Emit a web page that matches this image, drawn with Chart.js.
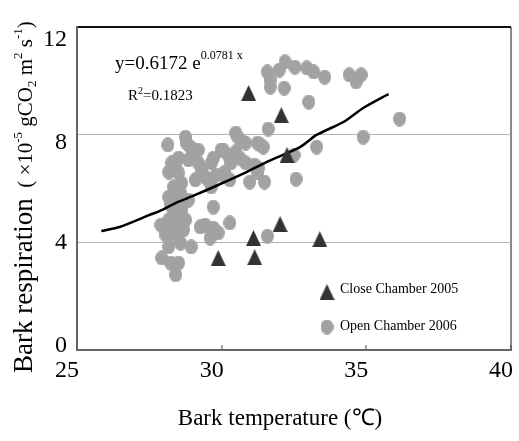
<!DOCTYPE html>
<html>
<head>
<meta charset="utf-8">
<script src="https://cdn.jsdelivr.net/npm/chart.js@4.4.0/dist/chart.umd.min.js"></script>
<style>
body { margin: 0; background: #fff; }
#wrap { width: 519px; height: 441px; }
</style>
</head>
<body>
<div id="wrap"><canvas id="myChart" width="519" height="441"></canvas></div>
<script>
// Close chamber 2005 (triangles)
const closeTemp = [30.93, 32.06, 32.26, 32.02, 31.10, 31.14, 29.88, 33.39];
const closeResp = [9.55, 8.73, 7.24, 4.68, 4.16, 3.45, 3.42, 4.12];

// Open chamber 2006 (grey dots)
const openTemp = [31.58, 31.68, 31.68, 31.99, 32.19, 32.53, 32.94, 33.18, 33.56, 34.41,
    34.65, 34.82, 32.16, 33.01, 36.15, 34.89, 33.28, 31.61, 31.44, 31.24,
    32.50, 31.27, 31.48, 32.57, 31.58, 30.28, 30.56, 30.73, 30.49, 31.34,
    30.05, 30.22, 30.49, 30.63, 30.83, 31.14, 31.24, 30.05, 30.28, 30.97,
    28.14, 28.75, 28.78, 29.02, 28.51, 28.41, 28.17, 29.19, 29.30, 29.43,
    29.71, 29.98, 30.32, 30.11, 29.81, 29.53, 28.61, 28.34, 28.17, 28.85,
    28.61, 28.34, 27.90, 28.27, 28.61, 28.41, 28.58, 28.17, 28.95, 29.26,
    29.43, 29.71, 29.88, 29.60, 29.71, 27.93, 28.24, 28.51, 28.41, 28.17,
    28.41, 28.61, 28.75, 28.27, 28.92, 28.27, 28.51, 29.64, 29.09, 29.64,
    28.58, 30.83, 28.44, 28.85, 29.19, 28.68, 28.24, 28.07];
const openResp = [10.33, 10.03, 9.77, 10.40, 10.70, 10.51, 10.48, 10.33, 10.14, 10.22,
    9.96, 10.22, 9.73, 9.21, 8.58, 7.91, 7.54, 8.21, 7.54, 7.69,
    7.24, 6.76, 6.24, 6.35, 4.23, 4.72, 7.91, 7.73, 8.06, 7.62,
    7.43, 7.24, 7.36, 7.13, 6.95, 6.87, 6.58, 6.50, 6.32, 6.24,
    7.62, 7.91, 7.69, 7.43, 7.13, 6.80, 6.61, 6.95, 6.69, 6.43,
    7.13, 7.43, 6.95, 6.61, 6.50, 6.32, 6.20, 6.06, 5.68, 5.57,
    5.20, 5.20, 4.64, 4.57, 4.83, 4.27, 3.97, 3.83, 3.83, 4.57,
    4.64, 4.53, 4.35, 4.16, 5.31, 3.42, 3.23, 3.23, 2.79, 4.83,
    5.09, 5.31, 4.83, 4.35, 7.54, 6.95, 6.58, 6.95, 6.32, 6.06,
    5.83, 7.69, 5.57, 7.06, 7.43, 4.46, 5.39, 4.27];

// fitted curve
const fitTemp = [25.84, 26.47, 27.49, 27.93, 28.41, 29.09, 29.88, 30.80, 31.58, 32.71, 33.28, 34.21, 34.89, 35.77];
const fitResp = [4.42, 4.57, 5.01, 5.20, 5.46, 5.76, 6.13, 6.58, 7.00, 7.54, 7.99, 8.47, 8.99, 9.51];

const xTicks = [25, 30, 35, 40];
const yTickStep = 2;
const yLabelEvery = 4;
const legendLabels = ['Close Chamber 2005', 'Open Chamber 2006'];

const SERIF = "'Liberation Serif', 'Times New Roman', serif";

// the y labels in the original sit a bit off their gridlines (px, + is down)
const yLabelShift = { 12: 13, 8: 8, 4: 0, 0: -4 };

function toPoints(xs, ys) {
    return xs.map((x, i) => ({ x: x, y: ys[i] }));
}

function makeDot(w, h, color) {
    const c = document.createElement('canvas');
    c.width = w; c.height = h;
    const g = c.getContext('2d');
    g.fillStyle = color;
    g.beginPath();
    g.ellipse(w / 2, h / 2, w / 2, h / 2, 0, 0, Math.PI * 2);
    g.fill();
    return c;
}

function makeTriangle(w, h, color) {
    const c = document.createElement('canvas');
    c.width = w; c.height = h;
    const g = c.getContext('2d');
    g.fillStyle = color;
    g.beginPath();
    g.moveTo(w / 2, 0);
    g.lineTo(w, h);
    g.lineTo(0, h);
    g.closePath();
    g.fill();
    return c;
}

const dotImg = makeDot(13, 15, '#a2a2a2');
const triImg = makeTriangle(15, 16, '#333333');

// draws text runs left to right, with sizes and vertical shifts (super/subscripts)
function drawRuns(ctx, x, y, runs) {
    let cx = x;
    runs.forEach(r => {
        ctx.font = r.s + 'px ' + SERIF;
        ctx.fillText(r.t, cx, y + (r.dy || 0));
        cx += ctx.measureText(r.t).width;
    });
}

const textPlugin = {
    id: 'textPlugin',
    beforeDatasetsDraw(chart) {
        const ctx = chart.ctx;
        ctx.save();
        ctx.fillStyle = '#fff';
        ctx.fillRect(335, 276, 172, 64);
        ctx.restore();
    },
    afterDatasetsDraw(chart) {
        const ctx = chart.ctx;
        ctx.save();
        ctx.fillStyle = '#000';
        ctx.textBaseline = 'alphabetic';
        ctx.textAlign = 'left';

        // equation
        drawRuns(ctx, 115, 69, [
            { t: 'y=0.6172 e', s: 19 },
            { t: '0.0781 x', s: 12, dy: -10 }
        ]);
        drawRuns(ctx, 128, 100, [
            { t: 'R', s: 15 },
            { t: '2', s: 10, dy: -6 },
            { t: '=0.1823', s: 15 }
        ]);

        // legend
        ctx.drawImage(triImg, 327 - 7.5, 292 - 8);
        ctx.drawImage(dotImg, 327 - 6.5, 327 - 7.5);
        ctx.font = '14px ' + SERIF;
        ctx.fillText(legendLabels[0], 340, 293);
        ctx.fillText(legendLabels[1], 340, 330);

        // x title
        ctx.font = '23px ' + SERIF;
        ctx.textAlign = 'center';
        ctx.fillText('Bark temperature (\u2103)', 280, 425);

        // y title (rotated)
        ctx.textAlign = 'left';
        ctx.translate(32, 373);
        ctx.rotate(-Math.PI / 2);
        drawRuns(ctx, 0, 0, [
            { t: 'Bark respiration', s: 27 },
            { t: '  ( ', s: 21 },
            { t: '\u00d710', s: 21 },
            { t: '-5', s: 13, dy: -10 },
            { t: ' gCO', s: 21 },
            { t: '2', s: 13, dy: 4 },
            { t: ' m', s: 21 },
            { t: '2', s: 13, dy: -10 },
            { t: ' s', s: 21 },
            { t: '-1', s: 13, dy: -10 },
            { t: ')', s: 21 }
        ]);
        ctx.restore();
    }
};

const config = {
    type: 'scatter',
    data: {
        datasets: [{
            label: legendLabels[0],
            data: toPoints(closeTemp, closeResp),
            pointStyle: triImg,
            pointRadius: 7,
            order: 1
        }, {
            type: 'line',
            label: 'fit',
            data: toPoints(fitTemp, fitResp),
            borderColor: '#000',
            borderWidth: 2.5,
            pointRadius: 0,
            tension: 0.25,
            fill: false,
            order: 2
        }, {
            label: legendLabels[1],
            data: toPoints(openTemp, openResp),
            pointStyle: dotImg,
            pointRadius: 6,
            order: 3
        }]
    },
    options: {
        responsive: false,
        animation: false,
        events: [],
        layout: { padding: { top: 27, right: 2, left: 0, bottom: 0 } },
        plugins: {
            legend: { display: false },
            tooltip: { enabled: false }
        },
        scales: {
            x: {
                type: 'linear',
                min: xTicks[0],
                max: xTicks[xTicks.length - 1],
                afterBuildTicks(scale) {
                    scale.ticks = xTicks.map(v => ({ value: v }));
                },
                afterFit(scale) {
                    scale.height = 91;
                    scale.paddingLeft = 0;
                    scale.paddingRight = 0;
                },
                border: { color: '#666', width: 2 },
                grid: {
                    color: c => (c.tick && c.tick.value === 40) ? '#888' : 'rgba(0,0,0,0)',
                    lineWidth: 2,
                    tickLength: -5,
                    tickColor: '#444',
                    tickWidth: 1
                },
                ticks: {
                    padding: 11,
                    labelOffset: -10,
                    color: '#000',
                    font: { family: SERIF, size: 24 }
                }
            },
            y: {
                type: 'linear',
                min: 0,
                max: 12,
                ticks: {
                    stepSize: yTickStep,
                    padding: 10,
                    color: '#000',
                    font: c => {
                        const s = c.tick ? Math.abs(yLabelShift[c.tick.value] || 0) : 0;
                        return { family: SERIF, size: 24, lineHeight: Math.max(2 * s, 1) + 'px' };
                    },
                    callback: v => {
                        if (v % yLabelEvery !== 0) return '';
                        const s = yLabelShift[v] || 0;
                        if (s > 0) return ['', String(v)];
                        if (s < 0) return [String(v), ''];
                        return String(v);
                    }
                },
                afterFit(scale) {
                    scale.width = 77;
                    scale.paddingTop = 0;
                    scale.paddingBottom = 0;
                },
                border: { color: '#666', width: 2 },
                grid: {
                    drawTicks: false,
                    color: c => (c.tick && c.tick.value === 12) ? '#111' : '#b4b4b4',
                    lineWidth: c => (c.tick && c.tick.value === 12) ? 2 : 1
                }
            }
        }
    },
    plugins: [textPlugin]
};

new Chart(document.getElementById('myChart'), config);
</script>
</body>
</html>
